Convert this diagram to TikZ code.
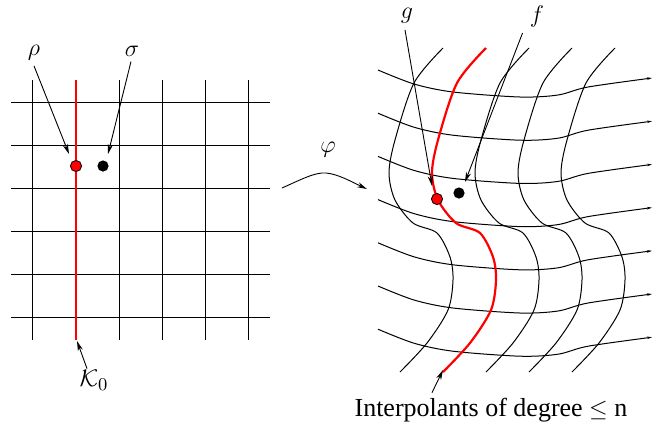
\documentclass[tikz,border=0pt]{standalone}
\usepackage{fontspec}
\setmainfont{Liberation Serif}
\usetikzlibrary{arrows.meta}
\tikzset{
  gridline/.style={black, line width=0.5pt},
  redline/.style={red, line width=1.1pt},
  lbl/.style={inner sep=1pt, font=\fontsize{13}{15}\selectfont},
  pointer/.style={line width=0.45pt, -{Stealth[length=5pt,width=2.6pt]}},
  reddot/.style={circle, fill=red, draw=black, line width=0.4pt, minimum size=5.6pt, inner sep=0pt},
  blackdot/.style={circle, fill=black, minimum size=5.6pt, inner sep=0pt},
}
\begin{document}
\begin{tikzpicture}[x=0.5pt, y=-0.5pt]
\useasboundingbox (0,0) rectangle (653,430);
% ---------- left grid ----------
\foreach \y in {102,145,188,231,274,317}
  \draw[gridline] (11,\y) -- (270,\y);
\foreach \x in {32,119,162,205,248}
  \draw[gridline] (\x,80) -- (\x,340);
\draw[redline] (76,80) -- (76,340);
\node[reddot] (rho) at (76,166) {};
\node[blackdot] (sigma) at (103,166) {};
\node[lbl] (rholbl) at (34,53) {$\rho$};
\node[lbl] (sigmalbl) at (132,51) {$\sigma$};
\node[lbl] (klbl) at (94,380) {$\mathcal{K}_0$};
\coordinate (rhotip) at (69,154);
\coordinate (sigmatip) at (108,154);
\coordinate (ktip) at (77,341);
\draw[pointer] (rholbl.south) ++(0,3) -- (rhotip);
\draw[pointer] (sigmalbl.south) ++(-1,3) -- (sigmatip);
\draw[pointer] (klbl.north) ++(-7,1) -- (ktip);
% ---------- map arrow ----------
\coordinate (mapstart) at (282,188);
\coordinate (mapend) at (367,189);
\draw[pointer] (mapstart) .. controls (300,180) and (315,172) .. (326,173)
  .. controls (338,174) and (352,182) .. (mapend);
\node[lbl] (philbl) at (328,150) {$\varphi$};
% ---------- right grid ----------
\foreach \k in {0,...,6}
  \draw[gridline, -{Stealth[length=2.5pt,width=1.3pt]}, shift={(378,{70+43.2*\k})}]
    plot[smooth] coordinates {(0,0) (36,14) (75,22) (142,27) (180,25) (210,17) (274,8)};
\foreach \dx in {0,86,129,172}
  \draw[gridline, shift={({443+\dx},48)}]
    plot[smooth] coordinates {(0,0) (-29,35) (-48,92) (-54,125) (-48,152) (-30,175) (-6,185) (7,209) (10,232) (5,262) (-16,295) (-43,324)};
\draw[redline, shift={(486,48)}]
    plot[smooth] coordinates {(0,0) (-29,35) (-48,92) (-54,125) (-48,152) (-30,175) (-6,185) (7,209) (10,232) (5,262) (-16,295) (-43,324)};
\node[reddot] (g) at (437,199) {};
\node[blackdot] (f) at (459,193) {};
\node[lbl] (glbl) at (407,16) {$g$};
\node[lbl] (flbl) at (537,16) {$f$};
\coordinate (gtip) at (432,186);
\coordinate (ftip) at (465,182);
\coordinate (itip) at (443,370);
\draw[pointer] (glbl.south) ++(-2,4) -- (gtip);
\draw[pointer] (flbl.south west) ++(-5,4) -- (ftip);
\node[lbl] (ilbl) at (491,410) {Interpolants of degree $\leq$ n};
\draw[pointer] (ilbl.north) ++(-59,-3) -- (itip);
\end{tikzpicture}
\end{document}
